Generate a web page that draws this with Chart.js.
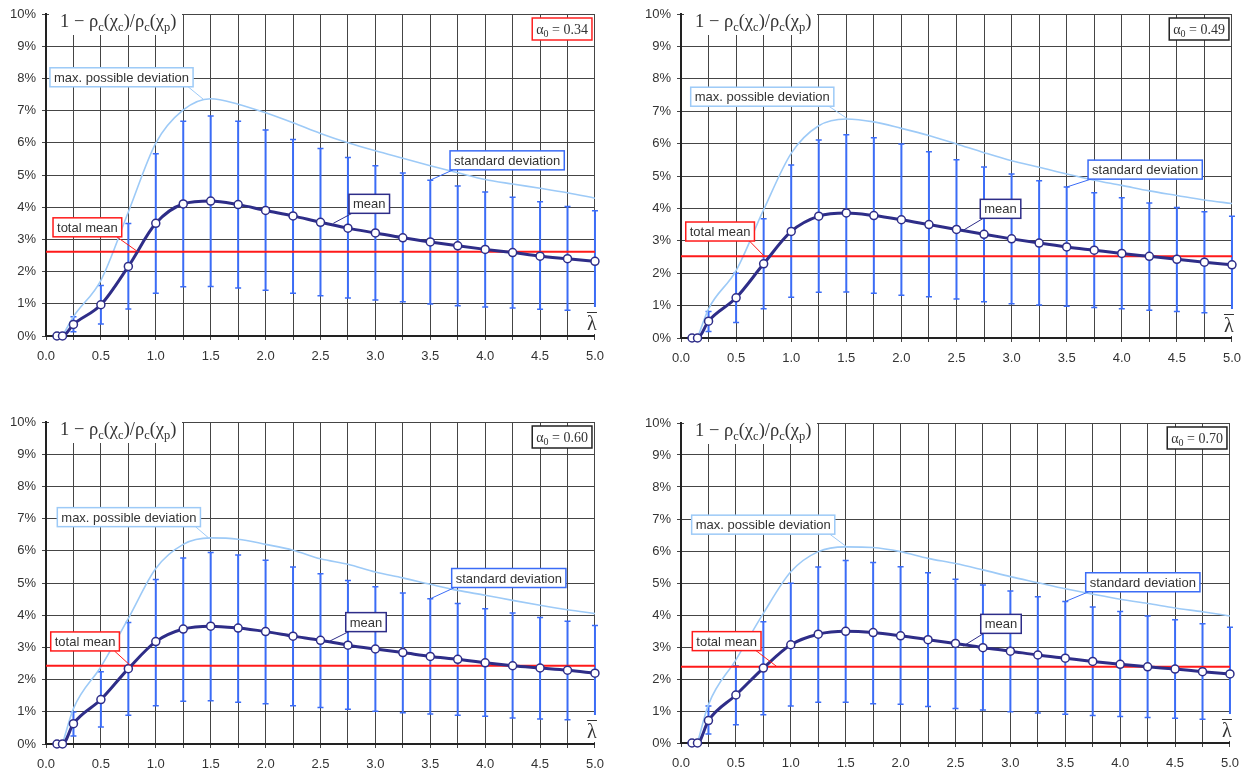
<!DOCTYPE html>
<html>
<head>
<meta charset="utf-8">
<script src="https://cdn.jsdelivr.net/npm/chart.js@4.4.1/dist/chart.umd.min.js"></script>
<style>
  html, body { margin: 0; padding: 0; background: #fff; overflow: hidden; width: 1249px; height: 773px; }
  canvas { position: absolute; }
</style>
</head>
<body>
<canvas id="p0" data-idx="0"></canvas>
<canvas id="p1" data-idx="1"></canvas>
<canvas id="p2" data-idx="2"></canvas>
<canvas id="p3" data-idx="3"></canvas>
<script>
// lambda positions of all measured points
const X_VALUES = [0.1, 0.15, 0.25, 0.5, 0.75, 1, 1.25, 1.5, 1.75, 2, 2.25, 2.5, 2.75, 3, 3.25, 3.5, 3.75, 4, 4.25, 4.5, 4.75, 5];

// alpha0 = 0.34
const MEAN_034  = [0, 0, 0.36, 0.97, 2.16, 3.5, 4.1, 4.19, 4.08, 3.9, 3.73, 3.53, 3.35, 3.2, 3.05, 2.92, 2.8, 2.69, 2.59, 2.48, 2.4, 2.32];
const UPPER_034 = [null, null, 0.6, 1.57, 3.49, 5.66, 6.67, 6.83, 6.67, 6.4, 6.1, 5.82, 5.54, 5.29, 5.06, 4.84, 4.66, 4.47, 4.31, 4.17, 4.02, 3.89];
const LOWER_034 = [null, null, 0.13, 0.37, 0.84, 1.33, 1.53, 1.54, 1.49, 1.42, 1.33, 1.25, 1.18, 1.12, 1.06, 0.99, 0.94, 0.9, 0.87, 0.83, 0.8, 0.75];
const MAXDEV_034 = [null, 0, 0.6, 1.73, 3.85, 5.99, 7.02, 7.37, 7.2, 6.93, 6.62, 6.29, 6.0, 5.75, 5.52, 5.29, 5.07, 4.86, 4.72, 4.59, 4.45, 4.28];
const TOTAL_034 = 2.62;

// alpha0 = 0.49
const MEAN_049  = [0, 0, 0.52, 1.24, 2.29, 3.29, 3.76, 3.86, 3.78, 3.65, 3.5, 3.35, 3.2, 3.06, 2.93, 2.81, 2.71, 2.61, 2.52, 2.43, 2.34, 2.26];
const UPPER_049 = [null, null, 0.82, 2.0, 3.68, 5.34, 6.11, 6.27, 6.18, 5.99, 5.75, 5.5, 5.28, 5.06, 4.85, 4.66, 4.48, 4.33, 4.17, 4.03, 3.9, 3.76];
const LOWER_049 = [null, null, 0.2, 0.48, 0.9, 1.26, 1.41, 1.42, 1.38, 1.32, 1.27, 1.2, 1.12, 1.06, 1.02, 0.98, 0.94, 0.9, 0.86, 0.82, 0.78, 0.76];
const MAXDEV_049 = [null, 0, 0.9, 2.08, 3.96, 5.7, 6.55, 6.76, 6.67, 6.47, 6.25, 5.99, 5.72, 5.47, 5.27, 5.06, 4.87, 4.71, 4.54, 4.4, 4.26, 4.15];
const TOTAL_049 = 2.52;

// alpha0 = 0.60
const MEAN_060  = [0, 0, 0.63, 1.38, 2.34, 3.18, 3.57, 3.66, 3.6, 3.49, 3.35, 3.22, 3.07, 2.95, 2.84, 2.72, 2.63, 2.52, 2.43, 2.36, 2.29, 2.2];
const UPPER_060 = [null, null, 0.99, 2.24, 3.77, 5.11, 5.78, 5.95, 5.87, 5.71, 5.5, 5.29, 5.08, 4.88, 4.69, 4.51, 4.36, 4.2, 4.07, 3.93, 3.81, 3.68];
const LOWER_060 = [null, null, 0.25, 0.53, 0.89, 1.19, 1.33, 1.34, 1.3, 1.25, 1.19, 1.13, 1.08, 1.02, 0.97, 0.93, 0.89, 0.86, 0.81, 0.78, 0.75, 0.72];
const MAXDEV_060 = [null, 0, 1.1, 2.4, 3.9, 5.45, 6.2, 6.4, 6.36, 6.2, 6.02, 5.75, 5.58, 5.34, 5.16, 4.96, 4.77, 4.62, 4.46, 4.31, 4.17, 4.05];
const TOTAL_060 = 2.43;

// alpha0 = 0.70
const MEAN_070  = [0, 0, 0.7, 1.5, 2.34, 3.07, 3.4, 3.49, 3.45, 3.35, 3.23, 3.11, 2.98, 2.87, 2.75, 2.65, 2.55, 2.46, 2.38, 2.31, 2.23, 2.16];
const UPPER_070 = [null, null, 1.16, 2.41, 3.79, 4.99, 5.5, 5.7, 5.64, 5.51, 5.32, 5.12, 4.94, 4.75, 4.57, 4.42, 4.25, 4.11, 3.97, 3.85, 3.73, 3.62];
const LOWER_070 = [null, null, 0.28, 0.57, 0.88, 1.16, 1.27, 1.27, 1.23, 1.21, 1.14, 1.08, 1.03, 0.98, 0.94, 0.9, 0.86, 0.83, 0.8, 0.77, 0.74, 0.7];
const MAXDEV_070 = [null, 0, 1.2, 2.6, 4.05, 5.35, 5.98, 6.13, 6.11, 5.98, 5.77, 5.61, 5.41, 5.2, 5.01, 4.82, 4.65, 4.49, 4.36, 4.22, 4.1, 3.97];
const TOTAL_070 = 2.38;

const ALPHA_LABELS = ["0.34", "0.49", "0.60", "0.70"];

const TXT_MAXDEV = "max. possible deviation";
const TXT_STDDEV = "standard deviation";
const TXT_MEAN = "mean";
const TXT_TOTAL = "total mean";

// colours
const C_MEAN = "#2e2d88";
const C_ERR = "#3b6cf6";
const C_MAX = "#9dcaf7";
const C_TOTAL = "#ff1a1a";
const C_GRID = "#454545";
const C_AXIS = "#222";
const C_TEXT = "#333";

const SANS = '"Liberation Sans", Arial, sans-serif';
const SERIF = '"Liberation Serif", "Times New Roman", serif';

// callout placement in data units: box top-left (x, y), leader target (tx, ty)
const CALLOUTS = [
  [
    { text: TXT_MAXDEV, color: C_MAX, x: 0.036, y: 8.33, tx: 1.43, ty: 7.36, from: "br" },
    { text: TXT_TOTAL, color: C_TOTAL, x: 0.064, y: 3.67, tx: 0.835, ty: 2.62, from: "br" },
    { text: TXT_MEAN, color: C_MEAN, x: 2.76, y: 4.4, tx: 2.617, ty: 3.5, from: "bl" },
    { text: TXT_STDDEV, color: C_ERR, x: 3.68, y: 5.75, tx: 3.5, ty: 4.84, from: "bl" },
  ],
  [
    { text: TXT_MAXDEV, color: C_MAX, x: 0.088, y: 7.74, tx: 1.505, ty: 6.78, from: "br" },
    { text: TXT_TOTAL, color: C_TOTAL, x: 0.043, y: 3.58, tx: 0.757, ty: 2.52, from: "br" },
    { text: TXT_MEAN, color: C_MEAN, x: 2.716, y: 4.28, tx: 2.564, ty: 3.33, from: "bl" },
    { text: TXT_STDDEV, color: C_ERR, x: 3.694, y: 5.49, tx: 3.5, ty: 4.66, from: "bl" },
  ],
  [
    { text: TXT_MAXDEV, color: C_MAX, x: 0.103, y: 7.34, tx: 1.478, ty: 6.41, from: "br" },
    { text: TXT_TOTAL, color: C_TOTAL, x: 0.043, y: 3.48, tx: 0.771, ty: 2.43, from: "br" },
    { text: TXT_MEAN, color: C_MEAN, x: 2.73, y: 4.08, tx: 2.587, ty: 3.2, from: "bl" },
    { text: TXT_STDDEV, color: C_ERR, x: 3.695, y: 5.45, tx: 3.5, ty: 4.51, from: "bl" },
  ],
  [
    { text: TXT_MAXDEV, color: C_MAX, x: 0.097, y: 7.12, tx: 1.509, ty: 6.13, from: "br" },
    { text: TXT_TOTAL, color: C_TOTAL, x: 0.103, y: 3.48, tx: 0.872, ty: 2.39, from: "br" },
    { text: TXT_MEAN, color: C_MEAN, x: 2.73, y: 4.02, tx: 2.571, ty: 3.03, from: "bl" },
    { text: TXT_STDDEV, color: C_ERR, x: 3.686, y: 5.32, tx: 3.5, ty: 4.42, from: "bl" },
  ],
];

const PANELS = [
  { mean: MEAN_034, upper: UPPER_034, lower: LOWER_034, maxdev: MAXDEV_034, total: TOTAL_034, alpha: ALPHA_LABELS[0], alphaBorder: "#ff2020" },
  { mean: MEAN_049, upper: UPPER_049, lower: LOWER_049, maxdev: MAXDEV_049, total: TOTAL_049, alpha: ALPHA_LABELS[1], alphaBorder: "#222" },
  { mean: MEAN_060, upper: UPPER_060, lower: LOWER_060, maxdev: MAXDEV_060, total: TOTAL_060, alpha: ALPHA_LABELS[2], alphaBorder: "#222" },
  { mean: MEAN_070, upper: UPPER_070, lower: LOWER_070, maxdev: MAXDEV_070, total: TOTAL_070, alpha: ALPHA_LABELS[3], alphaBorder: "#222" },
];

// plot areas on the page (left, top, right, bottom)
const AREAS = [
  { L: 46, T: 14, R: 595, B: 336 },
  { L: 681, T: 14, R: 1232, B: 338 },
  { L: 46, T: 422, R: 595, B: 744 },
  { L: 681, T: 423, R: 1230, B: 743 },
];
const Y_AXIS_W = 46, PAD_TOP = 14, PAD_RIGHT = 18, CANVAS_H = 386;

// draw text with subscripts: parts = [[text, isSub], ...]
function richText(ctx, parts, x, y, big, small, drop) {
  let cx = x;
  for (const [t, sub] of parts) {
    ctx.font = (sub ? small : big) + "px " + SERIF;
    ctx.fillText(t, cx, sub ? y + drop : y);
    cx += ctx.measureText(t).width;
  }
  return cx - x;
}
function richWidth(ctx, parts, big, small) {
  let w = 0;
  for (const [t, sub] of parts) {
    ctx.font = (sub ? small : big) + "px " + SERIF;
    w += ctx.measureText(t).width;
  }
  return w;
}

const TITLE_PARTS = [["1 \u2212 \u03C1", false], ["c", true], ["(\u03C7", false], ["c", true], [")/\u03C1", false], ["c", true], ["(\u03C7", false], ["p", true], [")", false]];

const decorPlugin = {
  id: "decor",
  beforeDatasetsDraw(chart) {
    const p = PANELS[+chart.canvas.dataset.idx];
    const { ctx, chartArea: a, scales: { x, y } } = chart;
    ctx.save();

    // title, on a white patch over the grid
    ctx.fillStyle = "#fff";
    ctx.fillRect(a.left + 3, a.top - 4, 133, 25);
    ctx.fillStyle = C_TEXT;
    ctx.textBaseline = "alphabetic";
    richText(ctx, TITLE_PARTS, a.left + 14, a.top + 12.5, 18.5, 12.5, 4);

    // error bars (mean +- standard deviation)
    ctx.strokeStyle = C_ERR;
    X_VALUES.forEach((xv, i) => {
      if (p.upper[i] == null) return;
      const px = x.getPixelForValue(xv);
      const y1 = y.getPixelForValue(p.upper[i]);
      const y2 = y.getPixelForValue(p.lower[i]);
      ctx.lineWidth = 2;
      ctx.beginPath(); ctx.moveTo(px, y1); ctx.lineTo(px, y2); ctx.stroke();
      ctx.lineWidth = 1.5;
      ctx.beginPath();
      ctx.moveTo(px - 3, y1); ctx.lineTo(px + 3, y1);
      ctx.moveTo(px - 3, y2); ctx.lineTo(px + 3, y2);
      ctx.stroke();
    });
    ctx.restore();
  },
  afterDraw(chart) {
    const idx = +chart.canvas.dataset.idx;
    const p = PANELS[idx];
    const { ctx, chartArea: a, scales: { x, y } } = chart;
    ctx.save();

    // lambda-bar label, bottom right
    ctx.fillStyle = "#fff";
    ctx.fillRect(a.right - 10, a.bottom - 29, 16, 27);
    ctx.fillStyle = C_TEXT;
    ctx.font = "20px " + SERIF;
    ctx.textAlign = "center";
    ctx.textBaseline = "alphabetic";
    ctx.fillText("\u03BB", a.right - 3, a.bottom - 6);
    ctx.strokeStyle = C_TEXT; ctx.lineWidth = 1;
    ctx.beginPath(); ctx.moveTo(a.right - 8, a.bottom - 23.5); ctx.lineTo(a.right + 2, a.bottom - 23.5); ctx.stroke();
    ctx.textAlign = "left";

    // alpha0 box, top right
    const aParts = [["\u03B1", false], ["0", true], [" = " + p.alpha, false]];
    const aw = richWidth(ctx, aParts, 14, 10) + 8;
    const bx = a.right - 3 - aw, by = a.top + 4;
    ctx.fillStyle = "#fff";
    ctx.fillRect(bx, by, aw, 22);
    ctx.strokeStyle = p.alphaBorder; ctx.lineWidth = 1.5;
    ctx.strokeRect(bx, by, aw, 22);
    ctx.fillStyle = C_TEXT;
    richText(ctx, aParts, bx + 4, by + 16, 14, 10, 3);

    // callouts with leader lines
    ctx.font = "13px " + SANS;
    for (const c of CALLOUTS[idx]) {
      const left = x.getPixelForValue(c.x), top = y.getPixelForValue(c.y);
      const w = ctx.measureText(c.text).width + 8, h = 19;
      const sx = c.from === "bl" ? left + 3 : left + w - 5;
      ctx.strokeStyle = c.color; ctx.lineWidth = 1;
      ctx.beginPath(); ctx.moveTo(sx, top + h); ctx.lineTo(x.getPixelForValue(c.tx), y.getPixelForValue(c.ty)); ctx.stroke();
      ctx.fillStyle = "#fff";
      ctx.fillRect(left, top, w, h);
      ctx.lineWidth = 1.5;
      ctx.strokeRect(left, top, w, h);
      ctx.fillStyle = C_TEXT;
      ctx.textBaseline = "middle";
      ctx.fillText(c.text, left + 4, top + h / 2 + 1);
    }
    ctx.restore();
  },
};

Chart.register(decorPlugin);

PANELS.forEach((p, i) => {
  const ar = AREAS[i];
  const canvas = document.getElementById("p" + i);
  const w = ar.R - ar.L + Y_AXIS_W + PAD_RIGHT;
  canvas.width = w; canvas.height = CANVAS_H;
  canvas.style.left = (ar.L - Y_AXIS_W) + "px";
  canvas.style.top = (ar.T - PAD_TOP) + "px";
  const xAxisH = CANVAS_H - PAD_TOP - (ar.B - ar.T);

  const meanPts = X_VALUES.map((xv, k) => ({ x: xv, y: p.mean[k] }));
  const maxPts = X_VALUES.map((xv, k) => ({ x: xv, y: p.maxdev[k] })).filter(d => d.y !== null);

  new Chart(canvas, {
    type: "line",
    data: {
      datasets: [
        {
          label: "mean",
          data: meanPts,
          borderColor: C_MEAN,
          borderWidth: 3,
          pointRadius: 4,
          pointBackgroundColor: "#fff",
          pointBorderColor: C_MEAN,
          pointBorderWidth: 1.5,
          cubicInterpolationMode: "monotone",
          clip: false,
          order: 0,
        },
        {
          label: "total mean",
          data: [{ x: 0, y: p.total }, { x: 5, y: p.total }],
          borderColor: C_TOTAL,
          borderWidth: 2,
          pointRadius: 0,
          order: 1,
        },
        {
          label: "max. possible deviation",
          data: maxPts,
          borderColor: C_MAX,
          borderWidth: 1.6,
          pointRadius: 0,
          cubicInterpolationMode: "monotone",
          order: 2,
        },
      ],
    },
    options: {
      responsive: false,
      animation: false,
      devicePixelRatio: 1,
      layout: { padding: { left: 0, top: PAD_TOP, right: PAD_RIGHT, bottom: 0 } },
      plugins: { legend: { display: false }, tooltip: { enabled: false } },
      scales: {
        x: {
          type: "linear",
          min: 0, max: 5,
          afterFit: s => { s.height = xAxisH; },
          ticks: {
            stepSize: 0.25,
            autoSkip: false,
            maxRotation: 0,
            padding: 9,
            color: C_TEXT,
            font: { family: SANS, size: 13 },
            callback: v => (Math.abs(v * 2 - Math.round(v * 2)) < 1e-6 ? v.toFixed(1) : ""),
          },
          grid: { color: C_GRID, lineWidth: 1, tickLength: 4 },
          border: { color: C_AXIS, width: 2 },
        },
        y: {
          min: 0, max: 10,
          afterFit: s => { s.width = Y_AXIS_W; },
          ticks: {
            stepSize: 1,
            padding: 6,
            color: C_TEXT,
            font: { family: SANS, size: 13 },
            callback: v => v + "%",
          },
          grid: { color: C_GRID, lineWidth: 1, tickLength: 4 },
          border: { color: C_AXIS, width: 2 },
        },
      },
    },
  });
});
</script>
</body>
</html>
